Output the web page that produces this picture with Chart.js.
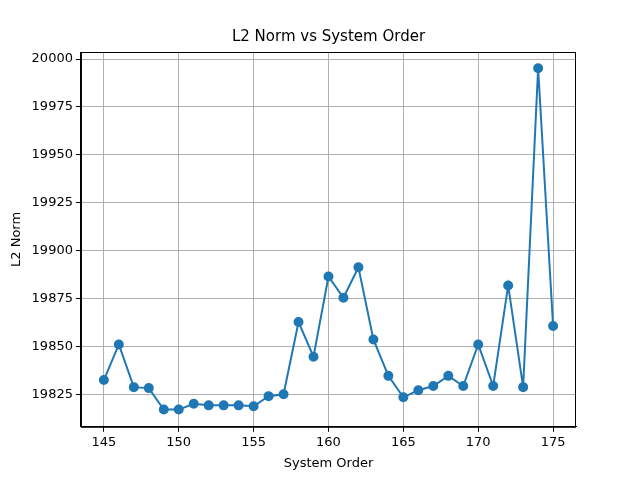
<!DOCTYPE html><html><head><script src="https://cdn.jsdelivr.net/npm/chart.js@4"></script>
<style>body{margin:0}#w{width:640px;height:480px}</style></head><body><div id="w"><canvas id="c" width="640" height="480"></canvas></div>
<script>
const orders=[145,146,147,148,149,150,151,152,153,154,155,156,157,158,159,160,161,162,163,164,165,166,167,168,169,170,171,172,173,174,175];
const norms=[19832.4,19851,19828.7,19828.2,19817,19817,19820,19819.2,19819.2,19819.2,19818.7,19824,19825,19862.7,19844.6,19886.5,19875.4,19891.3,19853.6,19834.6,19823.4,19827.1,19829.3,19834.6,19829.3,19851,19829.3,19881.8,19828.7,19995.2,19860.6];
const xTicks=[145,150,155,160,165,170,175];
const yTicks=[19825,19850,19875,19900,19925,19950,19975,20000];
const blue='#1f77b4';
const font={family:'DejaVu Sans',size:13};
const deco={id:'deco',afterDraw(c){const a=c.chartArea,x=c.ctx;x.save();x.strokeStyle='#000';x.lineWidth=1;x.strokeRect(a.left+0.5,a.top+0.5,a.right-a.left-1,a.bottom-a.top);
x.fillStyle='#000';x.font='15px DejaVu Sans';x.textAlign='center';x.textBaseline='bottom';x.fillText('L2 Norm vs System Order',(a.left+a.right)/2,a.top-7);x.restore();}};
new Chart(document.getElementById('c'),{type:'line',
data:{datasets:[{data:orders.map((x,i)=>({x,y:norms[i]})),borderColor:blue,backgroundColor:blue,borderWidth:2,pointRadius:4,pointHoverRadius:4,tension:0}]},
options:{responsive:false,animation:false,devicePixelRatio:1,
layout:{padding:{left:5,right:64,top:52,bottom:5}},
plugins:{legend:{display:false},tooltip:{enabled:false},title:{display:false}},
scales:{
x:{type:'linear',min:143.47,max:176.53,afterBuildTicks:a=>{a.ticks=xTicks.map(v=>({value:v}))},
ticks:{color:'#000',font,maxRotation:0},grid:{color:'#b0b0b0',tickLength:5,tickColor:'#000'},border:{color:'#000'},
title:{display:true,text:'System Order',color:'#000',font,padding:{top:2}}},
y:{min:19808,max:20003.7,afterBuildTicks:a=>{a.ticks=yTicks.map(v=>({value:v}))},
ticks:{color:'#000',font,callback:v=>String(v)},grid:{color:'#b0b0b0',tickLength:5,tickColor:'#000'},border:{color:'#000'},
title:{display:true,text:'L2 Norm',color:'#000',font}}}},plugins:[deco]});
</script></body></html>
